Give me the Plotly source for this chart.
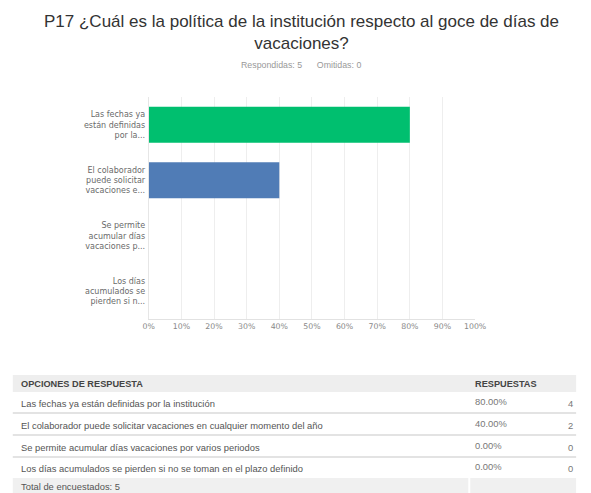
import plotly.graph_objects as go

# Survey question data
question = "P17 ¿Cuál es la política de la institución respecto al goce de días de<br>vacaciones?"
answered = 5
skipped = 0

short_labels = [
    "Las fechas ya<br>están definidas<br>por la...",
    "El colaborador<br>puede solicitar<br>vacaciones e...",
    "Se permite<br>acumular días<br>vacaciones p...",
    "Los días<br>acumulados se<br>pierden si n...",
]
full_labels = [
    "Las fechas ya están definidas por la institución",
    "El colaborador puede solicitar vacaciones en cualquier momento del año",
    "Se permite acumular días vacaciones por varios periodos",
    "Los días acumulados se pierden si no se toman en el plazo definido",
]
percentages = [80.0, 40.0, 0.0, 0.0]
counts = [4, 2, 0, 0]
bar_colors = ["#00bf6f", "#507cb6", "#507cb6", "#507cb6"]
x_ticks = list(range(0, 101, 10))

W, H = 591, 493


def px(x):
    return x / W


def py(y):
    return 1 - y / H


fig = go.Figure()
fig.add_trace(go.Bar(
    x=percentages,
    y=short_labels,
    orientation="h",
    marker=dict(color=bar_colors, line=dict(width=0)),
    hoverinfo="skip",
))

axis_font = dict(family="DejaVu Sans", size=8, color="#6a6a6a")

fig.update_layout(
    width=W,
    height=H,
    margin=dict(l=0, r=0, t=0, b=0),
    paper_bgcolor="white",
    plot_bgcolor="white",
    showlegend=False,
    bargap=0.35,
    font=dict(family="DejaVu Sans", color="#666666", size=8),
    xaxis=dict(
        domain=[px(147), px(483)],
        range=[0, 100],
        tickvals=x_ticks,
        ticktext=[f"{v}%" for v in x_ticks],
        showgrid=True,
        gridcolor="#eeeeee",
        gridwidth=1,
        zeroline=False,
        showline=True,
        linecolor="#e2e2e2",
        linewidth=1,
        ticks="",
        tickfont=dict(axis_font, size=7.8, color="#888888"),
        anchor="y",
        fixedrange=True,
    ),
    yaxis=dict(
        domain=[py(319), py(97)],
        autorange="reversed",
        showgrid=False,
        zeroline=False,
        showline=True,
        linecolor="#e6e6e6",
        ticks="",
        ticklabelstandoff=1,
        tickfont=axis_font,
        anchor="x",
        fixedrange=True,
    ),
)

annotations = []
shapes = []

# Title and summary line
header_cx = 304
annotations.append(dict(
    x=px(header_cx), y=py(33), xref="paper", yref="paper", xanchor="center", yanchor="middle",
    text=question, showarrow=False, align="center",
    font=dict(family="Liberation Sans", size=17, color="#333333"),
))
annotations.append(dict(
    x=px(header_cx), y=py(65), xref="paper", yref="paper", xanchor="center", yanchor="middle",
    text=f"Respondidas: {answered}&nbsp;&nbsp;&nbsp;&nbsp;&nbsp;&nbsp;Omitidas: {skipped}",
    showarrow=False,
    font=dict(family="Liberation Sans", size=8.8, color="#999999"),
))

# Response table
tbl_left, tbl_right = 7, 587
col_pct, col_cnt = 481, 586
header_top, header_bottom = 375, 392
row_bounds = [392, 413, 435, 457, 478]
total_top, total_bottom = 478, 493
table_font = dict(family="Liberation Sans", size=9.4, color="#555555")
header_font = dict(family="Liberation Sans", size=9.2, color="#444444")

shapes.append(dict(type="rect", xref="paper", yref="paper",
                   x0=px(tbl_left), x1=px(tbl_right), y0=py(header_bottom), y1=py(header_top),
                   fillcolor="#eeeeee", line=dict(width=0), layer="below"))
shapes.append(dict(type="rect", xref="paper", yref="paper",
                   x0=px(tbl_left), x1=px(476), y0=py(total_bottom), y1=py(total_top),
                   fillcolor="#f0f0f0", line=dict(width=0), layer="below"))
shapes.append(dict(type="rect", xref="paper", yref="paper",
                   x0=px(478), x1=px(tbl_right), y0=py(total_bottom), y1=py(total_top),
                   fillcolor="#f0f0f0", line=dict(width=0), layer="below"))
for yb in row_bounds[1:-1]:
    shapes.append(dict(type="line", xref="paper", yref="paper",
                       x0=px(tbl_left), x1=px(tbl_right), y0=py(yb), y1=py(yb),
                       line=dict(color="#e3e3e3", width=2)))

hy = (header_top + header_bottom) / 2
annotations.append(dict(x=px(13), y=py(hy), xref="paper", yref="paper", xanchor="left",
                        yanchor="middle", showarrow=False,
                        text="<b>OPCIONES DE RESPUESTA</b>", font=header_font))
annotations.append(dict(x=px(col_pct), y=py(hy), xref="paper", yref="paper", xanchor="left",
                        yanchor="middle", showarrow=False,
                        text="<b>RESPUESTAS</b>", font=header_font))

for i, (lab, pct, cnt) in enumerate(zip(full_labels, percentages, counts)):
    yc = (row_bounds[i] + row_bounds[i + 1]) / 2 + 1
    annotations.append(dict(x=px(13), y=py(yc), xref="paper", yref="paper", xanchor="left",
                            yanchor="middle", showarrow=False, text=lab, font=table_font))
    annotations.append(dict(x=px(col_pct), y=py(yc - 2), xref="paper", yref="paper",
                            xanchor="left", yanchor="middle", showarrow=False,
                            text=f"{pct:.2f}%", font=dict(table_font, color="#777777")))
    annotations.append(dict(x=px(col_cnt), y=py(yc), xref="paper", yref="paper",
                            xanchor="right", yanchor="middle", showarrow=False,
                            text=str(cnt), font=dict(table_font, color="#777777")))

annotations.append(dict(x=px(13), y=py((total_top + total_bottom) / 2 + 1), xref="paper",
                        yref="paper", xanchor="left", yanchor="middle", showarrow=False,
                        text=f"Total de encuestados: {answered}", font=table_font))

fig.update_layout(annotations=annotations, shapes=shapes)
fig.write_html("out.html", config={"displayModeBar": False})
